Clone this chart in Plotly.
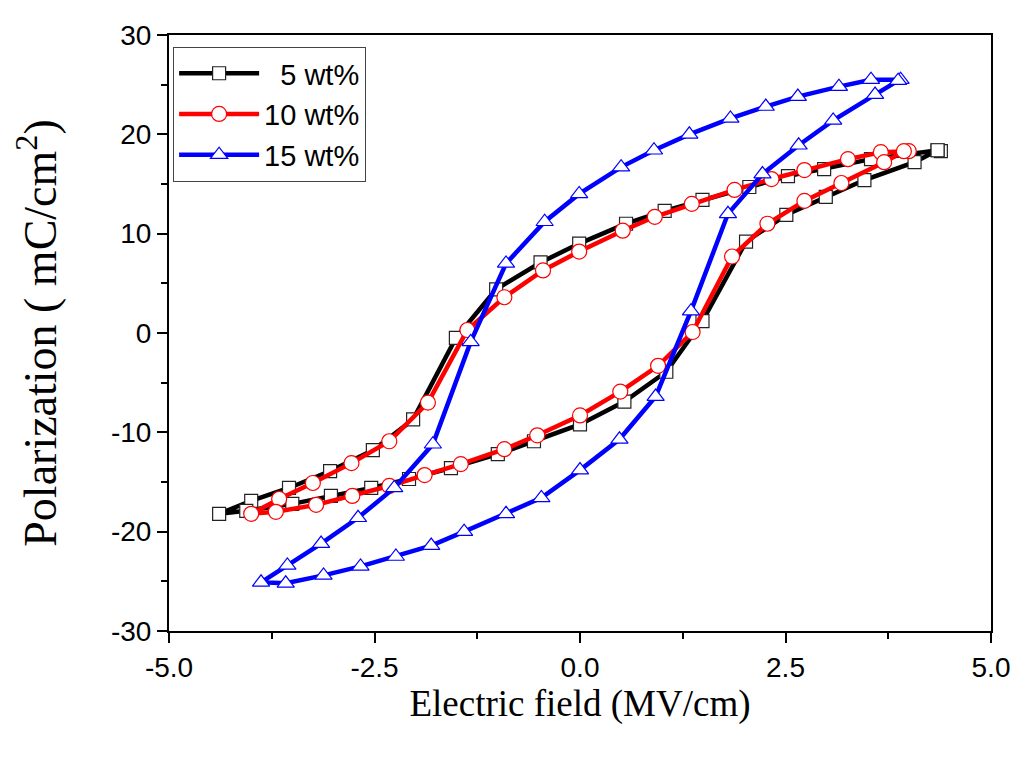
import plotly.graph_objects as go

# Петли гистерезиса P(E)
x_5 = [4.39, 4.35, 3.54, 2.97, 2.53, 2.06, 1.49, 1.03, 0.56, -0.01, -0.48, -1.02, -1.51, -2.03,
       -2.52, -3.04, -3.54, -4.00, -4.39, -4.06, -3.50, -3.03, -2.54, -2.08, -1.57, -1.00,
       -0.56, 0.00, 0.54, 1.05, 1.49, 2.02, 2.51, 2.99, 3.46, 4.07, 4.35]
p_5 = [18.3, 18.4, 17.5, 16.5, 15.8, 14.7, 13.4, 12.3, 11.0, 9.0, 7.1, 4.4, -0.5, -8.7,
       -11.8, -13.9, -15.6, -16.9, -18.2, -17.9, -17.2, -16.4, -15.6, -14.7, -13.6, -12.2,
       -10.9, -9.2, -6.9, -3.9, 1.2, 9.2, 11.9, 13.7, 15.4, 17.2, 18.4]

x_10 = [4.00, 3.66, 3.26, 2.73, 2.33, 1.88, 1.36, 0.91, 0.52, -0.01, -0.45, -0.92, -1.37, -1.85,
        -2.32, -2.78, -3.25, -3.66, -4.00, -3.70, -3.21, -2.77, -2.32, -1.89, -1.45, -0.92,
        -0.52, 0.00, 0.49, 0.95, 1.37, 1.85, 2.28, 2.73, 3.18, 3.70, 3.94]
p_10 = [18.3, 18.2, 17.5, 16.4, 15.5, 14.4, 13.0, 11.7, 10.3, 8.2, 6.3, 3.6, 0.3, -7.0,
        -10.9, -13.1, -15.1, -16.7, -18.2, -18.0, -17.3, -16.4, -15.4, -14.3, -13.2, -11.7,
        -10.3, -8.3, -5.9, -3.3, 0.1, 7.7, 11.0, 13.3, 15.1, 17.2, 18.3]

x_15 = [3.90, 3.54, 3.15, 2.65, 2.26, 1.83, 1.33, 0.90, 0.50, -0.01, -0.43, -0.90, -1.33, -1.79,
        -2.26, -2.70, -3.15, -3.56, -3.88, -3.58, -3.12, -2.67, -2.24, -1.81, -1.41, -0.90,
        -0.47, 0.00, 0.48, 0.92, 1.35, 1.80, 2.22, 2.66, 3.08, 3.59, 3.87]
p_15 = [25.5, 25.5, 24.8, 23.8, 22.8, 21.6, 20.0, 18.4, 16.7, 14.0, 11.2, 7.0, -0.9, -11.2,
        -15.6, -18.6, -21.2, -23.4, -25.1, -25.2, -24.4, -23.5, -22.5, -21.4, -20.0, -18.2,
        -16.6, -13.8, -10.7, -6.4, 2.2, 12.0, 16.0, 18.9, 21.4, 24.0, 25.4]

x_ticks = [-5.0, -2.5, 0.0, 2.5, 5.0]
x_labels = ['-5.0', '-2.5', '0.0', '2.5', '5.0']
y_ticks = [-30, -20, -10, 0, 10, 20, 30]
y_labels = ['-30', '-20', '-10', '0', '10', '20', '30']
x_minor = [-3.75, -1.25, 1.25, 3.75]
y_minor = [-25, -15, -5, 5, 15, 25]

series = [
    ('\u20075 wt%', x_5, p_5, 'black', '#222', 'square', 13),
    ('10 wt%', x_10, p_10, 'red', 'red', 'circle', 15),
    ('15 wt%', x_15, p_15, 'blue', 'blue', 'triangle-up', 15),
]

fig = go.Figure()
for name, x, y, color, edge, symbol, msize in series:
    fig.add_trace(go.Scatter(
        x=x, y=y, mode='lines+markers', name=name,
        line=dict(color=color, width=4.5),
        marker=dict(symbol=symbol, size=msize, color='white',
                    line=dict(color=edge, width=1.2)),
    ))

axis_common = dict(
    showline=True, linecolor='black', linewidth=2, mirror=True,
    ticks='outside', ticklen=10, tickwidth=2, tickcolor='black',
    showgrid=False, zeroline=False,
    tickfont=dict(family='Liberation Sans, Arial', size=28, color='black'),
)

fig.update_xaxes(
    range=[-5, 5], tickmode='array', tickvals=x_ticks, ticktext=x_labels,
    minor=dict(tickvals=x_minor, ticks='outside', ticklen=6, tickwidth=2, tickcolor='black'),
    title=dict(text='Electric field (MV/cm)', standoff=6,
               font=dict(family='Liberation Serif, Times New Roman', size=37, color='black')),
    **axis_common)
fig.update_yaxes(
    range=[-30, 30], tickmode='array', tickvals=y_ticks, ticktext=y_labels,
    minor=dict(tickvals=y_minor, ticks='outside', ticklen=6, tickwidth=2, tickcolor='black'),
    title=dict(text='Polarization ( mC/cm<sup>2</sup>)', standoff=40,
               font=dict(family='Liberation Serif, Times New Roman', size=46, color='black')),
    **axis_common)

fig.update_layout(
    width=1024, height=757,
    margin=dict(l=161, r=41, t=22, b=134),
    plot_bgcolor='white', paper_bgcolor='white',
    showlegend=True,
    legend=dict(x=0.005, y=0.98, xanchor='left', yanchor='top',
                bordercolor='#444', borderwidth=1, bgcolor='white',
                font=dict(family='Liberation Sans, Arial', size=29, color='black'),
                tracegroupgap=0, itemwidth=80),
)

fig.write_html("out.html")
